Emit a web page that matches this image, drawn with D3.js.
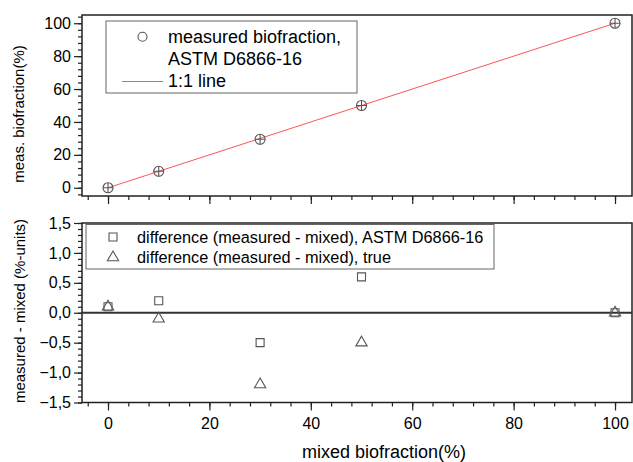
<!DOCTYPE html>
<html>
<head>
<meta charset="utf-8">
<script src="https://cdn.jsdelivr.net/npm/d3@7"></script>
<style>
body { margin: 0; background: #fff; }
svg { display: block; font-family: Arial, 'Liberation Sans', sans-serif; }
</style>
</head>
<body>
<svg width="633" height="462"></svg>
<script>
// data
var mixed = [0, 10, 30, 50, 100];
var measured = [0, 10, 29.5, 50, 100];
var diffAstm = [0.1, 0.2, -0.5, 0.6, 0.0];
var diffTrue = [0.1, -0.1, -1.2, -0.5, 0.0];
var topLegend = ['measured biofraction,', 'ASTM D6866-16', '1:1 line'];
var bottomLegend = ['difference (measured - mixed), ASTM D6866-16', 'difference (measured - mixed), true'];

var svg = d3.select('svg');
var left = 82, right = 632;
var markColor = '#555', frameColor = '#222';

var x = d3.scaleLinear().domain([-5.13, 103.35]).range([left, right]);
var yTop = d3.scaleLinear().domain([-5, 105]).range([196, 15]);
var yBot = d3.scaleLinear().domain([-1.5, 1.5]).range([402.5, 223]);

var fmt = function (d) { return d3.format('.1f')(d).replace('.', ','); };

// draws major + minor ticks, no domain line
var drawAxis = function (g, axisFn, scale, major, minor, labels, tickFmt, pad) {
	g.append('g').call(axisFn(scale).tickValues(minor).tickSize(4).tickFormat(''))
		.call(function (s) { s.select('.domain').remove(); });
	var a = g.append('g').call(axisFn(scale).tickValues(major).tickSize(8).tickPadding(pad)
		.tickFormat(labels ? tickFmt : ''));
	a.select('.domain').remove();
	g.selectAll('line').attr('stroke', frameColor).attr('stroke-width', 1.2);
	a.selectAll('text').attr('font-size', 16).attr('fill', '#000').attr('font-family', null);
};

var xMajor = d3.range(0, 101, 20), xMinor = d3.range(-4, 103, 4);

/* ---------- top panel ---------- */
var gTop = svg.append('g');
drawAxis(gTop.append('g').attr('transform', 'translate(' + left + ',0)'), d3.axisLeft, yTop,
	d3.range(0, 101, 20), d3.range(-4, 105, 4), true, d3.format('d'), 3);
drawAxis(gTop.append('g').attr('transform', 'translate(0,196)'), d3.axisBottom, x,
	xMajor, xMinor, false, null, 3);

gTop.append('rect').attr('x', left).attr('y', 15).attr('width', right - left).attr('height', 181)
	.attr('fill', 'none').attr('stroke', frameColor).attr('stroke-width', 1.5);

gTop.append('line')
	.attr('x1', x(0)).attr('y1', yTop(0)).attr('x2', x(100)).attr('y2', yTop(100))
	.attr('stroke', '#ff5555').attr('stroke-width', 1);

var pts = gTop.selectAll('g.pt').data(mixed).enter().append('g').attr('class', 'pt')
	.attr('transform', function (d, i) { return 'translate(' + x(d) + ',' + yTop(measured[i]) + ')'; });
pts.append('circle').attr('r', 5).attr('fill', 'none').attr('stroke', markColor).attr('stroke-width', 1.1);
pts.append('path').attr('d', 'M-5,0H5M0,-5V5').attr('stroke', markColor).attr('stroke-width', 1.1);

var lg = gTop.append('g');
lg.append('rect').attr('x', 106).attr('y', 21).attr('width', 251).attr('height', 72)
	.attr('fill', '#fff').attr('stroke', '#666').attr('stroke-width', 1);
lg.append('circle').attr('cx', 142.5).attr('cy', 36.7).attr('r', 4.5)
	.attr('fill', 'none').attr('stroke', markColor).attr('stroke-width', 1.1);
lg.append('line').attr('x1', 122).attr('x2', 163).attr('y1', 81.5).attr('y2', 81.5)
	.attr('stroke', '#ff5555').attr('stroke-width', 1);
lg.selectAll('text').data(topLegend).enter().append('text')
	.attr('x', 168).attr('y', function (d, i) { return 43.3 + i * 21.7; })
	.attr('font-size', 18).text(function (d) { return d; });

svg.append('text').attr('transform', 'translate(24,114) rotate(-90)')
	.attr('text-anchor', 'middle').attr('font-size', 15).text('meas. biofraction(%)');

/* ---------- bottom panel ---------- */
var gBot = svg.append('g');
drawAxis(gBot.append('g').attr('transform', 'translate(' + left + ',0)'), d3.axisLeft, yBot,
	d3.range(-1.5, 1.51, 0.5), d3.range(-15, 16, 1).map(function (v) { return v / 10; }), true, fmt, 3);
drawAxis(gBot.append('g').attr('transform', 'translate(0,402.5)'), d3.axisBottom, x,
	xMajor, xMinor, true, d3.format('d'), 7);

gBot.append('rect').attr('x', left).attr('y', 223).attr('width', right - left).attr('height', 179.5)
	.attr('fill', 'none').attr('stroke', frameColor).attr('stroke-width', 1.5);

gBot.append('line').attr('x1', left).attr('x2', right).attr('y1', yBot(0)).attr('y2', yBot(0))
	.attr('stroke', '#333').attr('stroke-width', 2);

var sq = d3.symbol().type(d3.symbolSquare).size(64);
var tri = d3.symbol().type(d3.symbolTriangle).size(55);

gBot.selectAll('path.sq').data(mixed).enter().append('path').attr('class', 'sq')
	.attr('d', sq).attr('fill', 'none').attr('stroke', markColor).attr('stroke-width', 1.1)
	.attr('transform', function (d, i) { return 'translate(' + x(d) + ',' + yBot(diffAstm[i]) + ')'; });
gBot.selectAll('path.tri').data(mixed).enter().append('path').attr('class', 'tri')
	.attr('d', tri).attr('fill', 'none').attr('stroke', markColor).attr('stroke-width', 1.1)
	.attr('transform', function (d, i) { return 'translate(' + x(d) + ',' + yBot(diffTrue[i]) + ')'; });

var lb = gBot.append('g');
lb.append('rect').attr('x', 86).attr('y', 224.5).attr('width', 408).attr('height', 44.5)
	.attr('fill', 'none').attr('stroke', '#666').attr('stroke-width', 1);
lb.append('path').attr('d', sq).attr('transform', 'translate(113,237)')
	.attr('fill', 'none').attr('stroke', markColor).attr('stroke-width', 1.1);
lb.append('path').attr('d', tri).attr('transform', 'translate(113,257.5)')
	.attr('fill', 'none').attr('stroke', markColor).attr('stroke-width', 1.1);
lb.selectAll('text').data(bottomLegend).enter().append('text')
	.attr('x', 137).attr('y', function (d, i) { return 243 + i * 20; })
	.attr('font-size', 16.3).text(function (d) { return d; });

svg.append('text').attr('transform', 'translate(25,311) rotate(-90)')
	.attr('text-anchor', 'middle').attr('font-size', 15).text('measured - mixed (%-units)');

svg.append('text').attr('x', 384).attr('y', 458).attr('text-anchor', 'middle')
	.attr('font-size', 18).text('mixed biofraction(%)');
</script>
</body>
</html>
